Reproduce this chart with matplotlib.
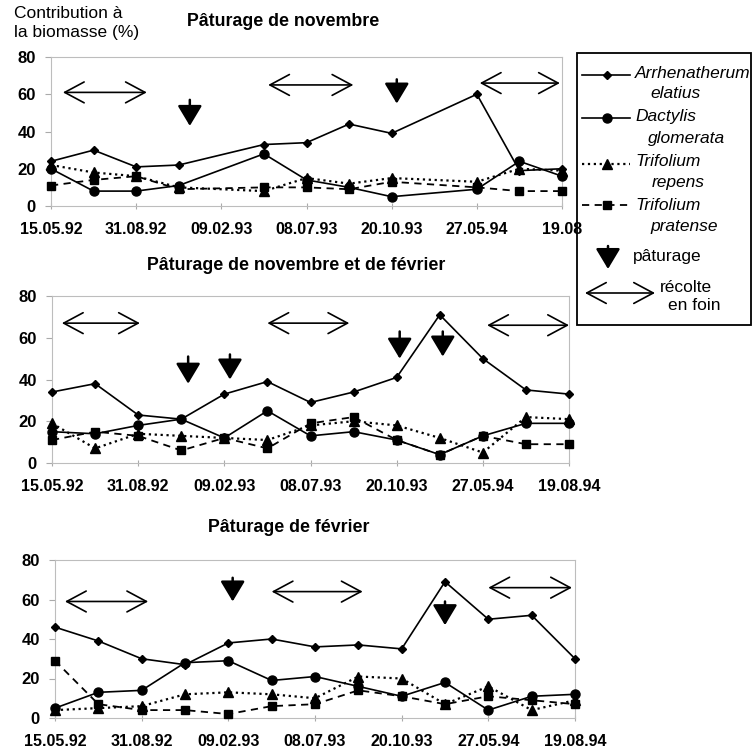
import numpy as np
import matplotlib.pyplot as plt
from matplotlib.patches import Rectangle

plt.rcParams['font.family'] = ['Liberation Sans', 'DejaVu Sans']

W, H = 754, 752

dates = ['15.05.92', '31.08.92', '09.02.93', '08.07.93', '20.10.93', '27.05.94', '19.08.94']
dates_p1 = dates[:-1] + ['19.08']

# sampling index (13 dates, every other one labelled)
x1 = [0, 1, 2, 3, 5, 6, 7, 8, 10, 11, 12]
x2 = list(range(13))
x3 = list(range(13))

# Pâturage de novembre
arr1 = [24, 30, 21, 22, 33, 34, 44, 39, 60, 19, 20]
dac1 = [20, 8, 8, 11, 28, 14, 10, 5, 9, 24, 16]
rep1 = [22, 18, 16, 10, 8, 15, 12, 15, 13, 20, 19]
pra1 = [11, 14, 16, 9, 10, 10, 9, 13, 10, 8, 8]

# Pâturage de novembre et de février
arr2 = [34, 38, 23, 21, 33, 39, 29, 34, 41, 71, 50, 35, 33]
dac2 = [15, 14, 18, 21, 12, 25, 13, 15, 11, 4, 13, 19, 19]
rep2 = [19, 7, 14, 13, 12, 11, 18, 20, 18, 12, 5, 22, 21]
pra2 = [11, 15, 13, 6, 12, 7, 19, 22, 11, 4, 13, 9, 9]

# Pâturage de février
arr3 = [46, 39, 30, 27, 38, 40, 36, 37, 35, 69, 50, 52, 30]
dac3 = [5, 13, 14, 28, 29, 19, 21, 16, 11, 18, 4, 11, 12]
rep3 = [4, 5, 6, 12, 13, 12, 10, 21, 20, 7, 16, 4, 9]
pra3 = [29, 7, 4, 4, 2, 6, 7, 14, 11, 7, 11, 9, 7]

# récolte en foin: (start, end, height)
hay1 = [(0.28, 2.25, 61), (5.1, 7.1, 65), (10.07, 11.95, 66)]
hay2 = [(0.23, 2.04, 67), (5.0, 6.9, 67), (10.1, 12.0, 66)]
hay3 = [(0.23, 2.15, 59), (5.0, 7.1, 64), (10.0, 11.93, 66)]
# pâturage: (position, top, tip)
graze1 = [(3.26, 57, 43), (8.12, 68, 55)]
graze2 = [(3.16, 51, 38), (4.13, 52, 40), (8.07, 63, 50), (9.07, 63, 51)]
graze3 = [(4.1, 71, 59), (9.0, 59, 47)]

titles = ['Pâturage de novembre', 'Pâturage de novembre et de février', 'Pâturage de février']


def draw_panel(ax, x, arr, dac, rep, pra, labels, hay, graze):
    ax.plot(x, arr, '-', marker='D', ms=4.5, color='k', lw=1.2, clip_on=False, zorder=4)
    ax.plot(x, dac, '-', marker='o', ms=6.5, color='k', lw=1.2, clip_on=False, zorder=4)
    ax.plot(x, rep, ':', marker='^', ms=7, color='k', lw=1.6, clip_on=False, zorder=3)
    ax.plot(x, pra, '--', marker='s', ms=6, color='k', lw=1.3, dashes=(4, 3),
            clip_on=False, zorder=3)
    for a, b, y in hay:
        ax.annotate('', xy=(b, y), xytext=(a, y), annotation_clip=False,
                    arrowprops=dict(arrowstyle='<->,head_length=1.4,head_width=0.75',
                                    lw=1.2, color='k', shrinkA=0, shrinkB=0,
                                    mutation_scale=10))
    for gx, top, tip in graze:
        ax.annotate('', xy=(gx, tip), xytext=(gx, top), annotation_clip=False,
                    arrowprops=dict(arrowstyle='-|>,head_length=1.25,head_width=0.75',
                                    lw=1.8, color='k', shrinkA=0, shrinkB=0,
                                    mutation_scale=10))
    ax.set_xlim(0, 12)
    ax.set_ylim(0, 80)
    ax.set_yticks([0, 20, 40, 60, 80])
    ax.set_xticks(range(0, 13, 2))
    ax.set_xticklabels(labels)
    ax.tick_params(axis='y', length=4, width=0.8, color='#aaaaaa', pad=7, labelsize=12)
    ax.tick_params(axis='x', length=5, width=0.8, color='#aaaaaa', direction='inout',
                   pad=9, labelsize=11.5)
    for t in ax.get_xticklabels() + ax.get_yticklabels():
        t.set_fontweight('bold')
    for s in ax.spines.values():
        s.set_color('#bdbdbd')
        s.set_linewidth(0.8)
    ax.patch.set_alpha(0)


fig = plt.figure(figsize=(W / 100, H / 100), dpi=100)


def box(left, right, top, bottom):
    return [left / W, 1 - bottom / H, (right - left) / W, (bottom - top) / H]


ax1 = fig.add_axes(box(51, 562, 57, 206))
ax2 = fig.add_axes(box(52, 569, 296, 463))
ax3 = fig.add_axes(box(55, 575, 560, 718))

draw_panel(ax1, x1, arr1, dac1, rep1, pra1, dates_p1, hay1, graze1)
draw_panel(ax2, x2, arr2, dac2, rep2, pra2, dates, hay2, graze2)
draw_panel(ax3, x3, arr3, dac3, rep3, pra3, dates, hay3, graze3)

# overlay in pixel units for titles and legend
ov = fig.add_axes([0, 0, 1, 1], zorder=10)
ov.set_xlim(0, W)
ov.set_ylim(H, 0)
ov.axis('off')
ov.patch.set_alpha(0)

ov.text(283, 22, titles[0], ha='center', va='center', fontsize=12.8, fontweight='bold')
ov.text(296, 265, titles[1], ha='center', va='center', fontsize=12.8, fontweight='bold')
ov.text(289, 527, titles[2], ha='center', va='center', fontsize=12.8, fontweight='bold')
ov.text(14, 13, 'Contribution à', ha='left', va='center', fontsize=12.5)
ov.text(14, 32, 'la biomasse (%)', ha='left', va='center', fontsize=12.5)

# legend
ov.add_patch(Rectangle((577, 53), 174, 272, fill=False, lw=1.3, ec='k'))
lx = [582, 607, 630]
ov.plot(lx, [75] * 3, '-', marker='D', ms=4.5, color='k', lw=1.2, markevery=[1])
ov.plot(lx, [118] * 3, '-', marker='o', ms=6.5, color='k', lw=1.2, markevery=[1])
ov.plot(lx, [164] * 3, ':', marker='^', ms=7, color='k', lw=1.6, markevery=[1])
ov.plot(lx, [205] * 3, '--', marker='s', ms=6, color='k', lw=1.3, dashes=(4, 3), markevery=[1])
leg = [('Arrhenatherum', 635, 73), ('elatius', 650, 93),
       ('Dactylis', 635, 117), ('glomerata', 648, 138),
       ('Trifolium', 635, 162), ('repens', 652, 183),
       ('Trifolium', 635, 205), ('pratense', 650, 227)]
for s, tx, ty in leg:
    ov.text(tx, ty, s, ha='left', va='center', fontsize=12.5, style='italic')
ov.annotate('', xy=(608, 269), xytext=(608, 246),
            arrowprops=dict(arrowstyle='-|>,head_length=1.25,head_width=0.75',
                            lw=1.8, color='k', shrinkA=0, shrinkB=0, mutation_scale=10))
ov.text(633, 257, 'pâturage', ha='left', va='center', fontsize=12.5)
ov.annotate('', xy=(655, 293), xytext=(585, 293),
            arrowprops=dict(arrowstyle='<->,head_length=1.4,head_width=0.75',
                            lw=1.2, color='k', shrinkA=0, shrinkB=0, mutation_scale=10))
ov.text(660, 287, 'récolte', ha='left', va='center', fontsize=12.5)
ov.text(668, 306, 'en foin', ha='left', va='center', fontsize=12.5)

fig.savefig('out.png', dpi=100)
